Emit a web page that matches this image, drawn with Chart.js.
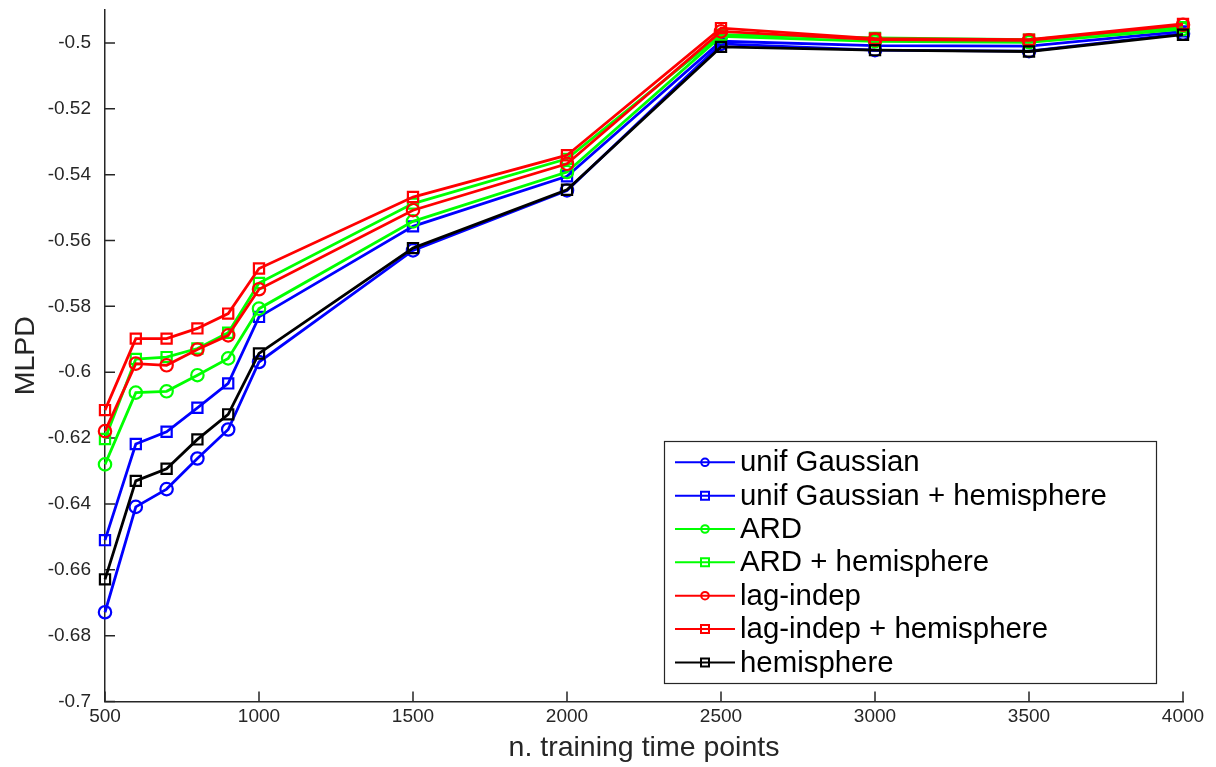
<!DOCTYPE html>
<html><head><meta charset="utf-8">
<script src="https://cdn.jsdelivr.net/npm/chart.js@4/dist/chart.umd.min.js"></script>
<style>html,body{margin:0;padding:0;background:#fff;}canvas{display:block;}</style>
</head><body>
<canvas id="c" width="1216" height="767"></canvas>
<script>
// ---- data ----
const xValues = [500, 600, 700, 800, 900, 1000, 1500, 2000, 2500, 3000, 3500, 4000];
const unifGaussian     = [-0.6729, -0.6409, -0.6355, -0.6262, -0.6174, -0.5969, -0.5630, -0.5448, -0.5003, -0.5022, -0.5025, -0.4972];
const unifGaussianHemi = [-0.6510, -0.6218, -0.6181, -0.6108, -0.6034, -0.5832, -0.5557, -0.5405, -0.4995, -0.5008, -0.5010, -0.4965];
const ard              = [-0.6280, -0.6062, -0.6058, -0.6009, -0.5958, -0.5807, -0.5542, -0.5392, -0.4980, -0.4995, -0.4998, -0.4958];
const ardHemi          = [-0.6203, -0.5960, -0.5954, -0.5928, -0.5880, -0.5729, -0.5488, -0.5352, -0.4975, -0.4985, -0.4990, -0.4952];
const lagIndep         = [-0.6179, -0.5974, -0.5979, -0.5931, -0.5888, -0.5748, -0.5508, -0.5367, -0.4965, -0.4990, -0.4992, -0.4945];
const lagIndepHemi     = [-0.6115, -0.5898, -0.5898, -0.5867, -0.5822, -0.5685, -0.5468, -0.5341, -0.4955, -0.4987, -0.4990, -0.4942];
const hemisphere       = [-0.6629, -0.6330, -0.6293, -0.6204, -0.6128, -0.5943, -0.5623, -0.5446, -0.5012, -0.5022, -0.5026, -0.4975];

const seriesNames = ['unif Gaussian', 'unif Gaussian + hemisphere', 'ARD', 'ARD + hemisphere', 'lag-indep', 'lag-indep + hemisphere', 'hemisphere'];
const seriesValues = [unifGaussian, unifGaussianHemi, ard, ardHemi, lagIndep, lagIndepHemi, hemisphere];
const seriesColors = ['#0000ff', '#0000ff', '#00ff00', '#00ff00', '#ff0000', '#ff0000', '#000000'];
const seriesMarkers = ['circle', 'rect', 'circle', 'rect', 'circle', 'rect', 'rect'];

const xTicks = [500, 1000, 1500, 2000, 2500, 3000, 3500, 4000];
const yTicks = [-0.7, -0.68, -0.66, -0.64, -0.62, -0.6, -0.58, -0.56, -0.54, -0.52, -0.5];
const xTitle = 'n. training time points';
const yTitle = 'MLPD';

// ---- chart ----
const FONT = "'Liberation Sans', Arial, Helvetica, sans-serif";
const AXIS = '#262626';
Chart.defaults.font.family = FONT;

const datasets = seriesValues.map((vals, i) => ({
  label: seriesNames[i],
  data: xValues.map((x, j) => ({x: x, y: vals[j]})),
  borderColor: seriesColors[i],
  backgroundColor: 'rgba(0,0,0,0)',
  pointBackgroundColor: 'rgba(0,0,0,0)',
  pointBorderColor: seriesColors[i],
  pointStyle: seriesMarkers[i],
  pointRadius: seriesMarkers[i] === 'circle' ? 6.2 : 7.2,
  pointBorderWidth: 2.2,
  borderWidth: 2.8,
  tension: 0,
  clip: false,
  order: seriesValues.length - 1 - i
}));

const innerTicks = {
  id: 'innerTicks',
  beforeDatasetsDraw(chart) {
    const {ctx, chartArea, scales} = chart;
    ctx.save();
    ctx.strokeStyle = AXIS;
    ctx.lineWidth = 1.5;
    ctx.beginPath();
    xTicks.forEach(v => {
      const px = scales.x.getPixelForValue(v);
      ctx.moveTo(px, chartArea.bottom);
      ctx.lineTo(px, chartArea.bottom - 10);
    });
    yTicks.forEach(v => {
      const py = scales.y.getPixelForValue(v);
      ctx.moveTo(chartArea.left, py);
      ctx.lineTo(chartArea.left + 10, py);
    });
    ctx.stroke();
    ctx.restore();
  }
};

const boxLegend = {
  id: 'boxLegend',
  afterDraw(chart) {
    const {ctx} = chart;
    const left = 664.5, top = 441.5, right = 1156.5, bottom = 683.5;
    ctx.save();
    ctx.fillStyle = '#ffffff';
    ctx.fillRect(left, top, right - left, bottom - top);
    ctx.strokeStyle = AXIS;
    ctx.lineWidth = 1.2;
    ctx.strokeRect(left, top, right - left, bottom - top);
    seriesNames.forEach((name, i) => {
      const cy = 462.3 + i * 33.35;
      ctx.strokeStyle = seriesColors[i];
      ctx.lineWidth = 2;
      ctx.beginPath();
      ctx.moveTo(675, cy);
      ctx.lineTo(735, cy);
      ctx.stroke();
      ctx.beginPath();
      if (seriesMarkers[i] === 'circle') {
        ctx.arc(705, cy, 3.8, 0, Math.PI * 2);
      } else {
        ctx.rect(701, cy - 4, 8, 8);
      }
      ctx.stroke();
      ctx.fillStyle = '#000000';
      ctx.font = '29.4px ' + FONT;
      ctx.textBaseline = 'middle';
      ctx.textAlign = 'left';
      ctx.fillText(name, 740, cy + 1);
    });
    ctx.restore();
  }
};

new Chart(document.getElementById('c'), {
  type: 'line',
  data: {datasets},
  options: {
    responsive: false,
    animation: false,
    devicePixelRatio: 1,
    layout: {padding: {left: 0, right: 33, top: 10, bottom: 0}},
    plugins: {legend: {display: false}, tooltip: {enabled: false}},
    scales: {
      x: {
        type: 'linear',
        min: 500, max: 4000,
        afterBuildTicks: s => { s.ticks = xTicks.map(v => ({value: v})); },
        afterFit: s => { s.height = 65.5; s.paddingLeft = 0; s.paddingRight = 0; },
        grid: {display: false, drawTicks: false},
        border: {display: true, color: AXIS, width: 1.5},
        ticks: {color: AXIS, font: {size: 19}, padding: 4, maxRotation: 0, autoSkip: false,
                callback: v => String(v)},
        title: {display: true, text: xTitle, color: AXIS, font: {size: 28.5}, padding: {top: 0, bottom: 2}}
      },
      y: {
        type: 'linear',
        min: -0.7, max: -0.49,
        afterBuildTicks: s => { s.ticks = yTicks.map(v => ({value: v})); },
        afterFit: s => { s.width = 105; s.paddingTop = 0; s.paddingBottom = 0; },
        grid: {display: false, drawTicks: false},
        border: {display: true, color: AXIS, width: 1.5},
        ticks: {color: AXIS, font: {size: 19}, padding: 14, autoSkip: false,
                callback: v => String(Math.round(v * 100) / 100)},
        title: {display: true, text: yTitle, color: AXIS, font: {size: 28.5}, padding: {top: 9, bottom: 0}}
      }
    }
  },
  plugins: [innerTicks, boxLegend]
});
</script>
</body></html>
